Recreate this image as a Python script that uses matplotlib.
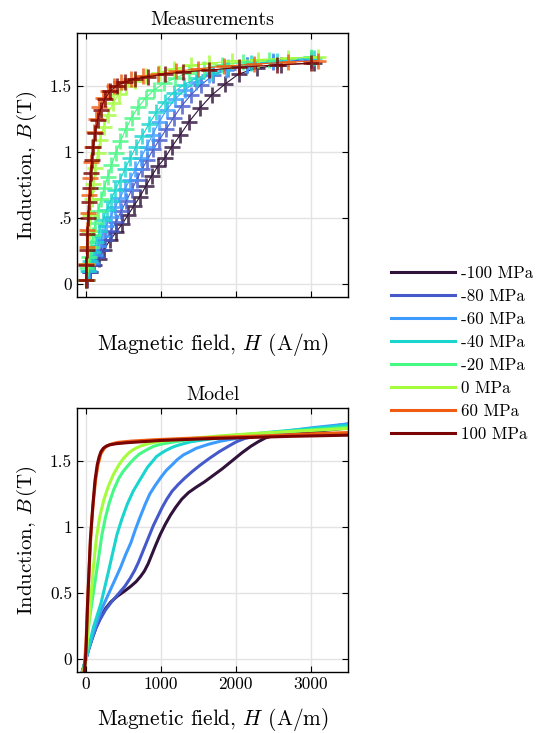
import numpy as np
import matplotlib
matplotlib.use('Agg')
import matplotlib.pyplot as plt

plt.rcParams['font.family'] = 'serif'
plt.rcParams['font.serif'] = ['cmr10']
plt.rcParams['mathtext.fontset'] = 'cm'
plt.rcParams['axes.formatter.use_mathtext'] = True

stress = [-100, -80, -60, -40, -20, 0, 60, 100]
labels = ['-100 MPa', '-80 MPa', '-60 MPa', '-40 MPa', '-20 MPa', '0 MPa', '60 MPa', '100 MPa']

# measured points (H in A/m, B in T)
meas_H = [
    [10, 60, 110, 170, 240, 320, 400, 480, 560, 640, 720, 800, 880, 960, 1050, 1150, 1260, 1380, 1520, 1680, 1860, 2040, 2280, 2600, 3050],
    [5, 50, 95, 145, 200, 260, 330, 400, 470, 540, 610, 680, 750, 820, 900, 980, 1070, 1170, 1280, 1400, 1540, 1700, 1900, 2150, 2500, 3000],
    [5, 40, 80, 120, 165, 215, 270, 330, 390, 450, 520, 590, 660, 730, 810, 890, 980, 1080, 1190, 1320, 1470, 1650, 1870, 2150, 2500, 3000],
    [5, 30, 60, 95, 135, 180, 225, 275, 330, 390, 450, 520, 590, 670, 750, 840, 940, 1050, 1170, 1310, 1480, 1680, 1900, 2200, 2550, 3050],
    [3, 20, 40, 65, 95, 125, 160, 200, 245, 290, 340, 400, 460, 530, 610, 700, 800, 910, 1040, 1190, 1370, 1580, 1820, 2100, 2450, 3000],
    [3, 15, 30, 45, 60, 80, 100, 125, 155, 190, 235, 290, 360, 440, 540, 660, 800, 970, 1170, 1400, 1650, 1950, 2300, 2700, 3100],
    [0, 5, 12, 20, 28, 38, 50, 65, 85, 110, 140, 180, 230, 290, 370, 470, 600, 760, 960, 1200, 1500, 1850, 2250, 2700, 3100],
    [0, 5, 12, 20, 30, 40, 52, 66, 82, 100, 125, 155, 195, 250, 320, 410, 520, 660, 830, 1050, 1300, 1650, 2050, 2550, 3000],
]
meas_B = [
    [0.03, 0.09, 0.14, 0.19, 0.26, 0.33, 0.39, 0.45, 0.52, 0.59, 0.66, 0.74, 0.82, 0.89, 0.95, 1.04, 1.13, 1.23, 1.33, 1.43, 1.515, 1.59, 1.635, 1.66, 1.675],
    [0.03, 0.09, 0.14, 0.20, 0.26, 0.33, 0.40, 0.47, 0.55, 0.63, 0.71, 0.79, 0.87, 0.94, 1.02, 1.09, 1.17, 1.26, 1.35, 1.43, 1.51, 1.58, 1.63, 1.66, 1.68, 1.70],
    [0.03, 0.10, 0.16, 0.22, 0.29, 0.36, 0.44, 0.51, 0.58, 0.65, 0.72, 0.79, 0.87, 0.95, 1.04, 1.13, 1.23, 1.32, 1.40, 1.47, 1.53, 1.58, 1.62, 1.66, 1.69, 1.71],
    [0.03, 0.10, 0.17, 0.24, 0.32, 0.40, 0.48, 0.56, 0.63, 0.71, 0.78, 0.87, 0.95, 1.04, 1.12, 1.21, 1.30, 1.38, 1.45, 1.51, 1.56, 1.60, 1.64, 1.67, 1.69, 1.71],
    [0.03, 0.12, 0.20, 0.28, 0.37, 0.46, 0.55, 0.64, 0.73, 0.81, 0.90, 0.99, 1.08, 1.17, 1.26, 1.34, 1.41, 1.47, 1.52, 1.56, 1.60, 1.63, 1.66, 1.68, 1.70, 1.72],
    [0.03, 0.15, 0.28, 0.40, 0.52, 0.64, 0.76, 0.88, 0.99, 1.09, 1.19, 1.28, 1.37, 1.44, 1.50, 1.54, 1.575, 1.60, 1.63, 1.655, 1.67, 1.69, 1.70, 1.71, 1.72],
    [0.03, 0.15, 0.28, 0.41, 0.54, 0.67, 0.80, 0.92, 1.04, 1.15, 1.25, 1.34, 1.41, 1.46, 1.50, 1.53, 1.555, 1.575, 1.59, 1.61, 1.63, 1.65, 1.665, 1.68, 1.69],
    [0.03, 0.14, 0.26, 0.38, 0.50, 0.62, 0.73, 0.84, 0.94, 1.04, 1.14, 1.24, 1.32, 1.40, 1.46, 1.50, 1.53, 1.555, 1.57, 1.59, 1.605, 1.62, 1.64, 1.66, 1.67],
]

# model curves
model_H = [
    [-60, 0, 40, 80, 130, 190, 260, 330, 420, 520, 600, 670, 730, 780, 830, 880, 930, 990, 1060, 1130, 1200, 1280, 1370, 1470, 1580, 1700, 1820, 1950, 2080, 2200, 2300, 2400, 2500, 2700, 3000, 3500],
    [-60, 0, 40, 80, 130, 190, 260, 340, 430, 520, 590, 650, 700, 750, 800, 850, 900, 960, 1020, 1080, 1150, 1230, 1320, 1420, 1530, 1650, 1780, 1900, 2009, 2120, 2250, 2500, 3000, 3500],
    [-60, 0, 40, 90, 150, 220, 300, 380, 460, 530, 600, 660, 720, 790, 853, 920, 1000, 1076, 1150, 1220, 1300, 1387, 1470, 1550, 1630, 1698, 1800, 1900, 2050, 2200, 2600, 3000, 3500],
    [-60, 0, 50, 100, 150, 200, 250, 300, 360, 413, 480, 550, 630, 720, 820, 942, 1010, 1070, 1140, 1209, 1300, 1400, 1520, 1650, 2000, 2500, 3000, 3500],
    [-50, 0, 20, 50, 80, 115, 147, 180, 213, 260, 310, 369, 440, 490, 547, 600, 650, 710, 769, 830, 900, 990, 1080, 1300, 1600, 2000, 2500, 3000, 3500],
    [-40, 0, 20, 45, 70, 100, 140, 185, 236, 300, 369, 440, 502, 580, 630, 680, 740, 800, 902, 1100, 1400, 1800, 2300, 2800, 3500],
    [-30, 0, 20, 40, 60, 80, 100, 130, 160, 200, 250, 320, 420, 600, 900, 1300, 1800, 2400, 3000, 3500],
    [-20, 0, 20, 58, 90, 120, 150, 175, 200, 230, 270, 320, 400, 550, 1000, 1700, 2720, 3500],
]
model_B = [
    [-0.12, 0, 0.08, 0.15, 0.23, 0.31, 0.38, 0.43, 0.475, 0.515, 0.55, 0.585, 0.625, 0.665, 0.72, 0.79, 0.86, 0.94, 1.02, 1.09, 1.15, 1.21, 1.26, 1.30, 1.34, 1.39, 1.44, 1.50, 1.56, 1.61, 1.645, 1.675, 1.69, 1.705, 1.72, 1.75],
    [-0.12, 0, 0.08, 0.15, 0.23, 0.30, 0.37, 0.43, 0.49, 0.55, 0.61, 0.67, 0.73, 0.80, 0.87, 0.94, 1.01, 1.08, 1.15, 1.21, 1.27, 1.32, 1.37, 1.42, 1.47, 1.52, 1.57, 1.61, 1.645, 1.67, 1.685, 1.70, 1.74, 1.78],
    [-0.12, 0, 0.08, 0.18, 0.29, 0.39, 0.49, 0.59, 0.69, 0.79, 0.88, 0.98, 1.07, 1.17, 1.25, 1.31, 1.375, 1.43, 1.47, 1.51, 1.545, 1.57, 1.595, 1.61, 1.625, 1.635, 1.65, 1.66, 1.675, 1.69, 1.72, 1.75, 1.78],
    [-0.12, 0, 0.12, 0.24, 0.33, 0.42, 0.54, 0.66, 0.81, 0.94, 1.06, 1.17, 1.27, 1.356, 1.45, 1.533, 1.56, 1.58, 1.60, 1.615, 1.63, 1.645, 1.655, 1.665, 1.69, 1.72, 1.745, 1.77],
    [-0.12, 0, 0.18, 0.31, 0.43, 0.56, 0.683, 0.81, 0.94, 1.07, 1.18, 1.28, 1.37, 1.415, 1.455, 1.49, 1.52, 1.55, 1.57, 1.59, 1.61, 1.625, 1.635, 1.655, 1.675, 1.695, 1.715, 1.735, 1.755],
    [-0.12, 0, 0.15, 0.32, 0.50, 0.70, 0.92, 1.08, 1.20, 1.31, 1.40, 1.47, 1.52, 1.565, 1.585, 1.60, 1.615, 1.625, 1.64, 1.655, 1.67, 1.69, 1.71, 1.725, 1.745],
    [-0.12, 0.12, 0.40, 0.65, 0.88, 1.06, 1.20, 1.36, 1.47, 1.555, 1.60, 1.625, 1.64, 1.65, 1.66, 1.67, 1.68, 1.69, 1.705, 1.715],
    [-0.1, 0.05, 0.4, 0.9, 1.15, 1.35, 1.47, 1.53, 1.57, 1.595, 1.612, 1.622, 1.63, 1.638, 1.655, 1.67, 1.686, 1.695],
]

colors = [plt.cm.turbo((s + 100) / 200) for s in stress]

fig = plt.figure(figsize=(5.48, 7.33), dpi=100)
ax1 = fig.add_axes([0.1405, 0.5948, 0.4945, 0.360])
ax2 = fig.add_axes([0.1405, 0.0832, 0.4945, 0.360])

for i in range(len(stress)):
    ax1.plot(meas_H[i], meas_B[i], '+', color=colors[i], ms=12, mew=2.0, alpha=0.8)
    ax1.plot(meas_H[i], meas_B[i], '-', color=colors[i], lw=0.8)

lines = []
for i in range(len(stress)):
    ln, = ax2.plot(model_H[i], model_B[i], '-', color=colors[i], lw=2.2)
    lines.append(ln)

for ax in (ax1, ax2):
    ax.set_xlim(-120, 3500)
    ax.set_ylim(-0.1, 1.9)
    ax.set_xticks([0, 1000, 2000, 3000])
    ax.set_yticks([0, 0.5, 1, 1.5])
    ax.grid(True, color='#e3e3e3', lw=1.0)
    ax.set_axisbelow(True)
    ax.tick_params(direction='in', top=True, right=True, labelsize=12.5, length=4, width=0.8)
    for sp in ax.spines.values():
        sp.set_linewidth(1.0)
    ax.set_ylabel(r'Induction, $B\,$(T)', fontsize=15, labelpad=8)
    ax.set_xlabel(r'Magnetic field, $H$ (A/m)', fontsize=15.4, labelpad=10)

ax1.set_xticklabels(['0', '1000', '2000', '3000'], color='none')
ax1.set_yticklabels(['0', '.5', '1', '1.5'])
ax2.set_yticklabels(['0', '0.5', '1', '1.5'])
ax2.set_xticklabels(['0', '1000', '2000', '3000'])
ax1.set_title('Measurements', fontsize=14.3, pad=6)
ax2.set_title('Model', fontsize=14.3, pad=6)

fig.legend(lines, labels, loc='upper left', bbox_to_anchor=(0.701, 0.647), frameon=False,
           fontsize=12.2, handlelength=3.8, handletextpad=0.35, labelspacing=0.455,
           borderaxespad=0)

fig.savefig('out.png', dpi=100)
